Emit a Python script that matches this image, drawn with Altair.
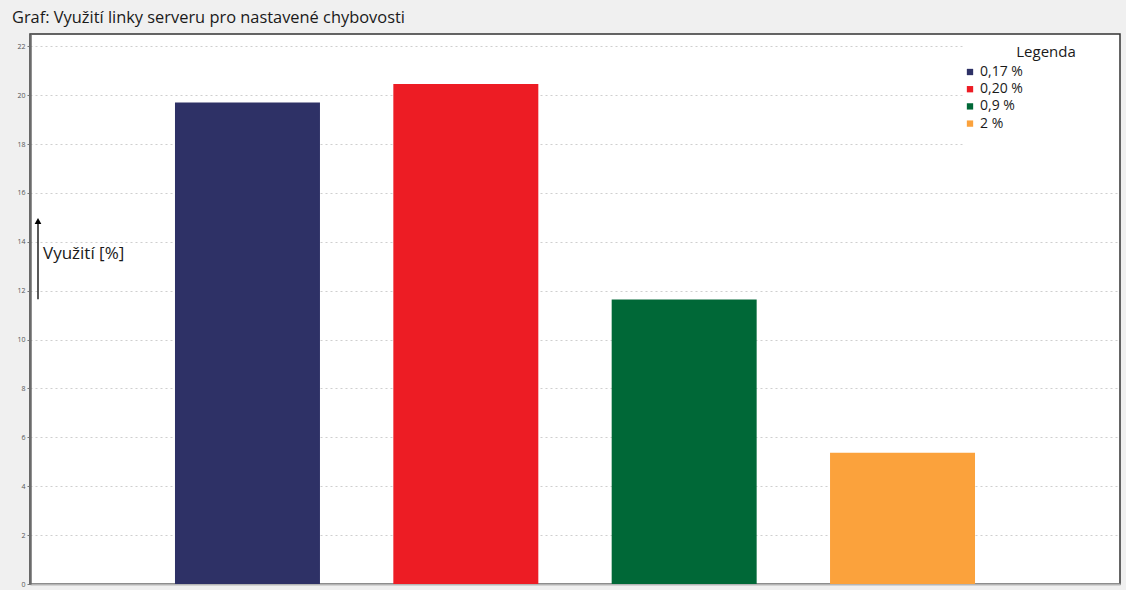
import altair as alt
import pandas as pd

categories = ["0,17 %", "0,20 %", "0,9 %", "2 %"]
values = [19.7, 20.45, 11.64, 5.37]
colors = ["#2e3166", "#ed1c24", "#006837", "#fba23c"]
y_ticks = list(range(0, 23))

df = pd.DataFrame({"kat": categories, "val": values})

W, H = 1090, 550
ydom = [0, 22.5]
font = "Open Sans"

yscale = alt.Scale(domain=ydom, nice=False, zero=True)

bars = alt.Chart(df).mark_bar().encode(
    x=alt.X("kat:N", sort=categories,
            scale=alt.Scale(paddingInner=0.336, paddingOuter=0.664),
            axis=alt.Axis(labels=False, ticks=False, title=None, domainColor="#b5b5b5",
                          domainWidth=2, grid=False)),
    y=alt.Y("val:Q", scale=yscale,
            axis=alt.Axis(values=y_ticks, title=None, grid=True, gridDash=[2, 3],
                          gridColor="#cfcfcf", gridWidth=1,
                          labelExpr="datum.value % 2 == 0 ? datum.label : ''",
                          tickOpacity=alt.ExprRef("datum.value % 2 == 0 ? 1 : 0"),
                          labelFontSize=7, labelColor="#555", labelFont=font,
                          tickSize=3, tickColor="#777", labelPadding=2,
                          domainColor="#6b6b6b", domainWidth=2.5)),
    color=alt.Color("kat:N", sort=categories,
                    scale=alt.Scale(domain=categories, range=colors),
                    legend=alt.Legend(orient="none", legendX=933, legendY=31, title=None,
                                      symbolType="square", symbolSize=40,
                                      symbolStrokeWidth=0, labelFontSize=14,
                                      labelFont=font, labelColor="#1a1a1a",
                                      rowPadding=3.2, labelOffset=3, padding=0)),
)

whitebox = alt.Chart(pd.DataFrame({"a": [0]})).mark_rect(color="white").encode(
    x=alt.value(933), x2=alt.value(W - 2), y=alt.value(1), y2=alt.value(143)
)

legend_title = alt.Chart(pd.DataFrame({"t": ["Legenda"]})).mark_text(
    fontSize=15, font=font, color="#1a1a1a", align="center", baseline="middle"
).encode(text="t:N", x=alt.value(1016), y=alt.value(18))

arrow_df = pd.DataFrame({"y0": [11.65], "y1": [14.85]})
arrow_line = alt.Chart(arrow_df).mark_rule(color="black", strokeWidth=1.3).encode(
    x=alt.value(8), y=alt.Y("y0:Q", scale=yscale), y2="y1:Q"
)
arrow_head = alt.Chart(arrow_df).mark_point(shape="triangle-up", filled=True, color="black",
                                            size=45, opacity=1).encode(
    x=alt.value(8), y=alt.Y("y1:Q", scale=yscale)
)
ylab = alt.Chart(pd.DataFrame({"t": ["Využití [%]"], "y": [13.5]})).mark_text(
    fontSize=17, font=font, color="#1a1a1a", align="left", baseline="middle"
).encode(text="t:N", x=alt.value(13), y=alt.Y("y:Q", scale=yscale))

chart = alt.layer(whitebox, bars, legend_title, arrow_line, arrow_head, ylab).properties(
    width=W, height=H,
    title=alt.Title("Graf: Využití linky serveru pro nastavené chybovosti", anchor="start",
                    frame="group", dx=-18, offset=8, fontSize=16.4, font=font,
                    fontWeight="normal", color="#1a1a1a"),
    autosize=alt.AutoSizeParams(type="none"),
    padding={"left": 30, "top": 34, "right": 6, "bottom": 6},
    background="#f0f0f0",
).configure_view(fill="white", stroke="#333", strokeWidth=1.5)

chart.save("out.html", embed_options={"renderer": "svg", "actions": False})
